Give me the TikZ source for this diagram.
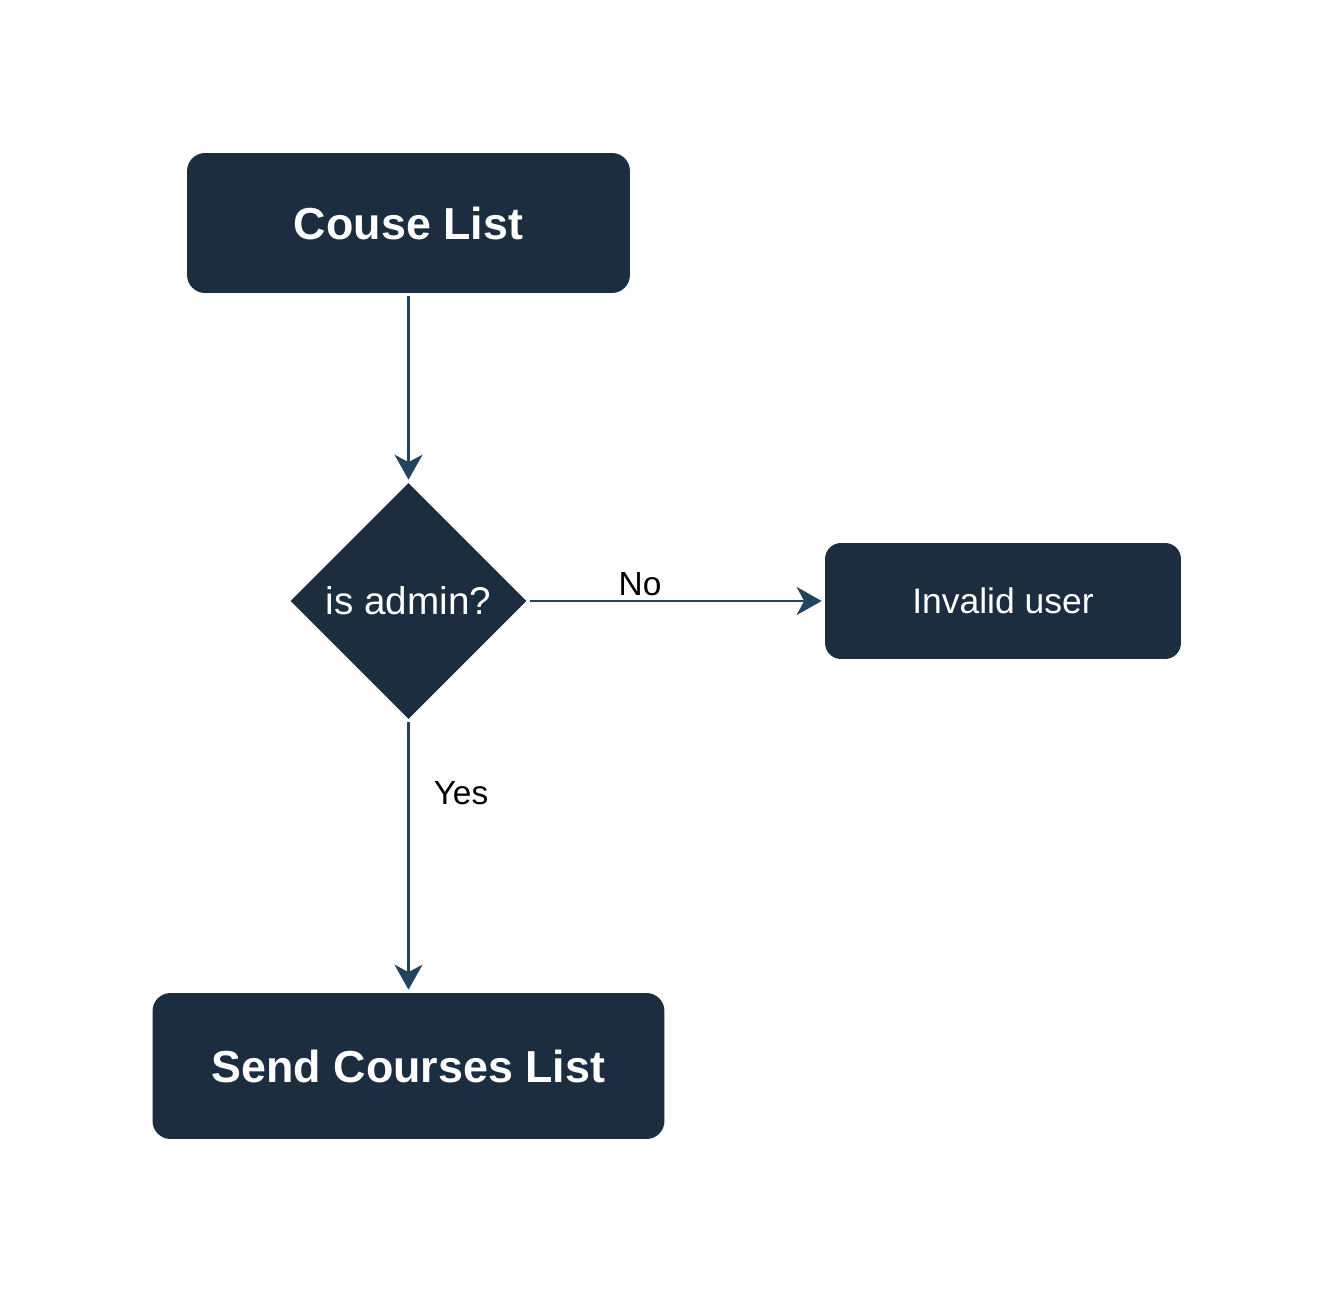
\documentclass[tikz,border=0pt]{standalone}
\usepackage{fontspec}
\setmainfont{Liberation Sans}
\usetikzlibrary{arrows.meta,shapes.geometric}
\definecolor{boxfill}{HTML}{1B2D3E}
\definecolor{flowline}{HTML}{23445D}
\tikzset{
  block/.style={fill=boxfill, text=white, align=center, inner sep=0pt},
  decide/.style={diamond, fill=boxfill, text=white, inner sep=0pt,
    minimum width=4.72cm, minimum height=4.72cm},
  flow/.style={draw=flowline, line width=0.05cm, shorten <=0.06cm, shorten >=0.06cm,
    -{Stealth[length=0.5cm,width=0.56cm,inset=0.15cm]}},
  tag/.style={font=\fontsize{19}{23}\selectfont, inner sep=0pt}
}
\begin{document}
\begin{tikzpicture}[x=0.02cm,y=-0.02cm]
  \useasboundingbox (0,0) rectangle (1335,1293);
  \node[block, rounded corners=0.36cm, minimum width=8.86cm, minimum height=2.8cm,
    font=\bfseries\fontsize{25.5}{30}\selectfont] (list) at (408.5,223) {Couse List};
  \node[decide, font=\fontsize{22}{26}\selectfont] (admin) at (408.5,601) {is admin?};
  \node[block, rounded corners=0.32cm, minimum width=7.12cm, minimum height=2.32cm,
    font=\fontsize{20.2}{24}\selectfont] (invalid) at (1003,601) {Invalid user};
  \node[block, rounded corners=0.36cm, minimum width=10.24cm, minimum height=2.92cm,
    font=\bfseries\fontsize{25.5}{30}\selectfont] (send) at (408.5,1066) {Send Courses List};
  \draw[flow] (list) -- (admin);
  \draw[flow] (admin) -- node[tag, pos=0.38, above, yshift=0.08cm] (no) {No} (invalid);
  \draw[flow] (admin) -- node[tag, pos=0.27, anchor=west, xshift=0.48cm] (yes) {Yes} (send);
\end{tikzpicture}
\end{document}
